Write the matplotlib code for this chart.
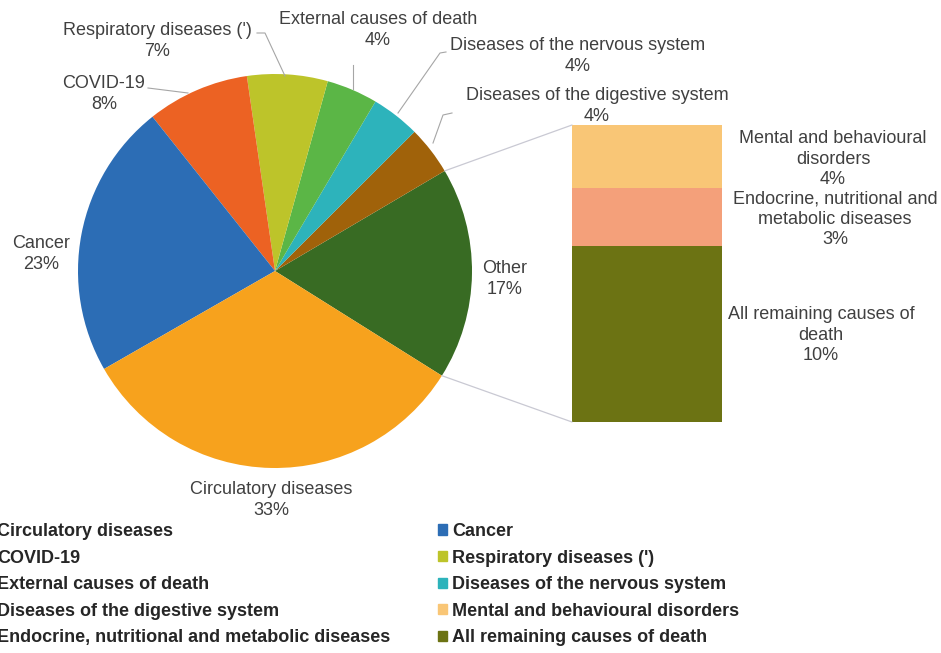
import matplotlib.pyplot as plt
from matplotlib.patches import Patch, ConnectionPatch
import numpy as np

plt.rcParams['font.family'] = ['Liberation Sans', 'DejaVu Sans']

# ---------------------------------------------------------------------------
# DATA  (share of deaths, %)
# ---------------------------------------------------------------------------
pie_names = ["Other", "Diseases of the digestive system", "Diseases of the nervous system",
             "External causes of death", "Respiratory diseases (')", "COVID-19",
             "Cancer", "Circulatory diseases"]
pie_values = [17.4, 4.0, 4.0, 4.2, 6.6, 8.4, 22.6, 32.8]
pie_colors = ["#386b23", "#a0620a", "#2db3bb", "#5bb646", "#bdc42a", "#ec6223",
              "#2c6db5", "#f7a21d"]

bar_names = ["All remaining causes of death", "Endocrine, nutritional and metabolic diseases",
             "Mental and behavioural disorders"]
bar_values = [10.3, 3.4, 3.7]
bar_colors = ["#6c7313", "#f4a07a", "#f9c676"]

# label texts as printed on the chart (line breaks)
pie_label_text = ["Other", "Diseases of the digestive system", "Diseases of the nervous system",
                  "External causes of death", "Respiratory diseases (')", "COVID-19",
                  "Cancer", "Circulatory diseases"]
bar_label_text = ["All remaining causes of\ndeath", "Endocrine, nutritional and\nmetabolic diseases",
                  "Mental and behavioural\ndisorders"]

# ---------------------------------------------------------------------------
# LAYOUT (pixel positions, y measured from top)
# ---------------------------------------------------------------------------
W, H = 941, 653
pie_center = (275, 271)
pie_radius = 197
pie_start = -32.1
bar_box = (572, 125, 722, 422)   # left, top, right, bottom

pie_label_pos = [(505, 279), (597, 106), (578, 56), (378, 30), (157, 41),
                 (104, 94), (41, 254), (271, 500)]
bar_label_pos = [(821, 335), (835, 219), (833, 159)]

leaders = [
    [(148, 88), (188, 93)],
    [(257, 33), (265, 33), (285, 76)],
    [(353, 65), (353, 89)],
    [(446, 52), (440, 53), (398, 113)],
    [(452, 113), (443, 115), (433, 143)],
]


def px(x, y):
    return x, H - y


fig = plt.figure(figsize=(W / 100, H / 100), dpi=100)
ax = fig.add_axes([0, 0, 1, 1])

wedges, _ = ax.pie(pie_values, colors=pie_colors, startangle=pie_start,
                   counterclock=True, center=px(*pie_center), radius=pie_radius,
                   wedgeprops=dict(linewidth=0))
ax.set_xlim(0, W)
ax.set_ylim(0, H)
ax.set_aspect('equal')
ax.axis('off')

label_color = "#404040"
for txt, v, (x, y) in zip(pie_label_text, pie_values, pie_label_pos):
    ax.text(*px(x, y), f"{txt}\n{v:.0f}%", ha="center", va="center", fontsize=13,
            color=label_color, linespacing=1.25)

for pts in leaders:
    xs, ys = zip(*[px(*p) for p in pts])
    ax.plot(xs, ys, color="#a6a6a6", lw=0.8)

# bar of "Other"
l, t, r, b = bar_box
ax2 = fig.add_axes([l / W, (H - b) / H, (r - l) / W, (b - t) / H])
bottoms = np.concatenate([[0], np.cumsum(bar_values)[:-1]])
ax2.bar(0, bar_values, bottom=bottoms, width=1, color=bar_colors, linewidth=0)
ax2.set_xlim(-0.5, 0.5)
ax2.set_ylim(0, sum(bar_values))
ax2.axis('off')

for txt, v, (x, y) in zip(bar_label_text, bar_values, bar_label_pos):
    ax.text(*px(x, y), f"{txt}\n{v:.0f}%", ha="center", va="center", fontsize=13,
            color=label_color, linespacing=1.25)

# connector lines from the "Other" wedge to the bar
w0 = wedges[0]
cx, cy = w0.center
for ang, ybar in [(w0.theta2, sum(bar_values)), (w0.theta1, 0)]:
    a = np.deg2rad(ang)
    con = ConnectionPatch(xyA=(cx + w0.r * np.cos(a), cy + w0.r * np.sin(a)), coordsA=ax.transData,
                          xyB=(-0.5, ybar), coordsB=ax2.transData, color="#c9c9d3", lw=0.9)
    fig.add_artist(con)

# legend (two columns, left one runs off the page)
all_names = dict(zip(pie_names + bar_names, pie_colors + bar_colors))
left_col = ["Circulatory diseases", "COVID-19", "External causes of death",
            "Diseases of the digestive system", "Endocrine, nutritional and metabolic diseases"]
right_col = ["Cancer", "Respiratory diseases (')", "Diseases of the nervous system",
             "Mental and behavioural disorders", "All remaining causes of death"]

for col, x0 in [(left_col, -17), (right_col, 438)]:
    handles = [Patch(color=all_names[n], label=n) for n in col]
    fig.legend(handles=handles, loc="upper left", bbox_to_anchor=(x0 / W, (H - 523) / H),
               frameon=False, borderpad=0, borderaxespad=0, handlelength=0.5, handleheight=0.5,
               handletextpad=0.3, labelspacing=0.53,
               prop=dict(family="Liberation Sans", weight="bold", size=13),
               labelcolor="#262626")

fig.savefig("out.png", dpi=100)
